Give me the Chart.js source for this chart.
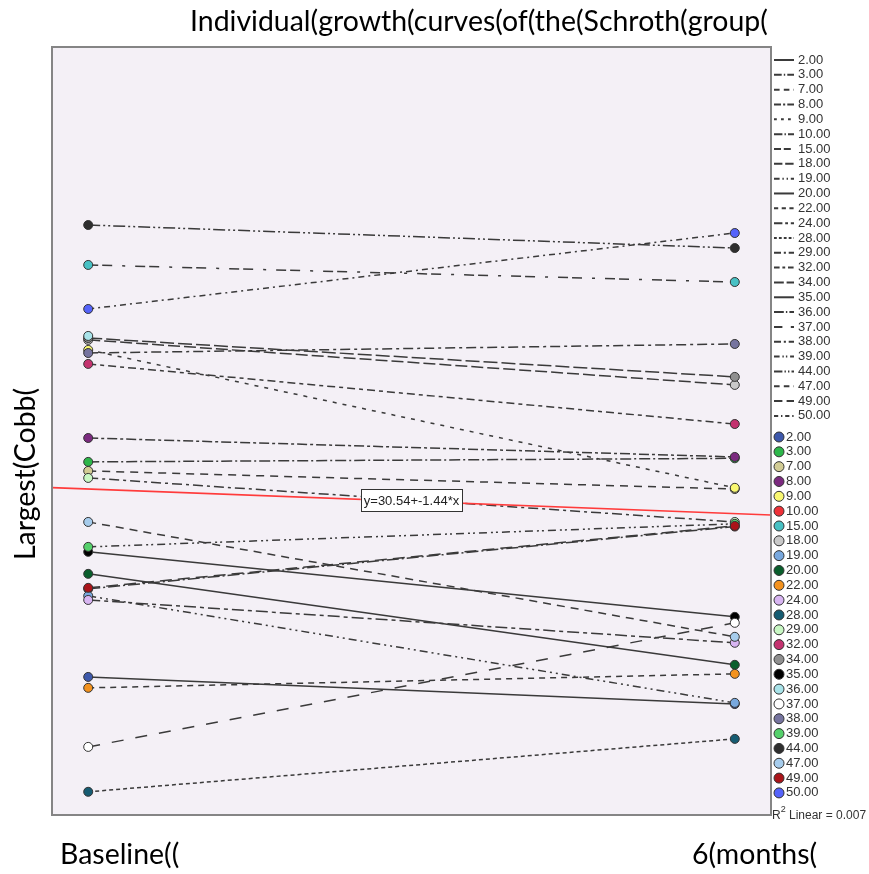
<!DOCTYPE html>
<html>
<head>
<meta charset="utf-8">
<script src="https://cdn.jsdelivr.net/npm/chart.js@4/dist/chart.umd.min.js"></script>
<style>
  html, body { margin: 0; padding: 0; background: #ffffff; }
  #wrap { width: 869px; height: 874px; position: relative; }
</style>
</head>
<body>
<div id="wrap"><canvas id="c" width="869" height="874"></canvas></div>
<script>
// ---- data ----
const categories = ['2.00','3.00','7.00','8.00','9.00','10.00','15.00','18.00','19.00','20.00','22.00','24.00','28.00','29.00','32.00','34.00','35.00','36.00','37.00','38.00','39.00','44.00','47.00','49.00','50.00'];
const timeLabels = ['Baseline((', '6(months('];
const baselineValues = [18.09, 30.69, 30.16, 32.09, 37.25, 23.25, 42.23, 37.84, 22.84, 24.13, 17.45, 22.60, 11.36, 29.75, 36.43, 37.95, 25.42, 38.07, 13.99, 37.07, 25.71, 44.57, 27.17, 23.31, 39.65];
const sixMonthValues = [16.50, 30.90, 29.10, 30.98, 29.17, 26.90, 41.23, 35.20, 16.57, 18.80, 18.27, 20.09, 14.46, 27.17, 32.91, 35.67, 21.61, null, 21.26, 37.60, 27.06, 43.22, 20.44, 26.94, 44.10];
const markerColors = ['#3D58AB','#2DB64A','#D2CC95','#7B2A7F','#F9F871','#EE3138','#47C1C4','#C9C9C9','#78A8DE','#0A5E2C','#F3921E','#D8B5F2','#165C72','#C8F7C3','#C4326F','#8F8F8F','#000000','#A8E3E9','#FFFFFF','#76749F','#55D06B','#2E2E2E','#A6CCEC','#AA1419','#5563FA'];
const lineDashes = [[],[11,3,2,3],[8,6],[10,3,3,3],[4,6],[12,3,2,3],[10,4,10,10,3,10],[12,4],[8,4,2,4,2,4],[],[6,5],[12,4,4,4],[4,3],[10,4,3,4],[8,4,4,4],[14,4],[],[14,3,2,3],[12,12],[10,4,3,4],[8,4,2,3,2,4],[12,3,2,3,2,3],[8,6],[12,6],[6,4,2,4]];
const fitIntercept = 30.54;
const fitSlope = -1.44;
const rSquared = '0.007';
const titleText = 'Individual(growth(curves(of(the(Schroth(group(';
const yTitleText = 'Largest(Cobb(';

// ---- chart ----
const X_MIN = 0.944, X_MAX = 2.056, Y_MIN = 10, Y_MAX = 55;

const datasets = [];
datasets.push({
  type: 'scatter',
  data: baselineValues.map(v => ({x: 1, y: v})),
  pointBackgroundColor: markerColors,
  pointBorderColor: '#333333',
  pointBorderWidth: 1,
  pointRadius: 4.5,
  order: 0
});
datasets.push({
  type: 'scatter',
  data: sixMonthValues.map(v => ({x: 2, y: v})),
  pointBackgroundColor: markerColors,
  pointBorderColor: '#333333',
  pointBorderWidth: 1,
  pointRadius: 4.5,
  order: 0
});
datasets.push({
  type: 'line',
  data: [{x: X_MIN, y: fitIntercept + fitSlope * X_MIN}, {x: X_MAX, y: fitIntercept + fitSlope * X_MAX}],
  borderColor: '#FF3B3B',
  borderWidth: 1.6,
  pointRadius: 0,
  order: 1
});
categories.forEach((c, i) => {
  datasets.push({
    type: 'line',
    label: c,
    data: [{x: 1, y: baselineValues[i]}, {x: 2, y: sixMonthValues[i]}],
    borderColor: '#3a3a3a',
    borderWidth: 1.5,
    borderDash: lineDashes[i],
    pointRadius: 0,
    spanGaps: false,
    order: 2
  });
});

function fitSize(ctx, text, family, width) {
  ctx.font = '20px ' + family;
  const w = ctx.measureText(text).width;
  return 20 * width / w;
}

const decor = {
  id: 'decor',
  beforeDraw(chart) {
    const {ctx, chartArea: a} = chart;
    ctx.save();
    ctx.fillStyle = '#ffffff';
    ctx.fillRect(0, 0, chart.width, chart.height);
    ctx.fillStyle = '#F4F0F6';
    ctx.fillRect(a.left, a.top, a.right - a.left, a.bottom - a.top);
    ctx.restore();
  },
  afterDatasetsDraw(chart) {
    const {ctx, chartArea: a, scales} = chart;
    ctx.save();
    const lx = scales.x.getPixelForValue(1.5);
    const ly = scales.y.getPixelForValue(fitIntercept + fitSlope * 1.5) - 1;
    const label = 'y=' + fitIntercept.toFixed(2) + '+' + fitSlope.toFixed(2) + '*x';
    ctx.font = '13px "Liberation Sans", Arial, sans-serif';
    const w = ctx.measureText(label).width + 6;
    ctx.fillStyle = '#ffffff';
    ctx.fillRect(lx - w / 2, ly - 11, w, 22);
    ctx.strokeStyle = '#333333';
    ctx.lineWidth = 1;
    ctx.strokeRect(Math.round(lx - w / 2) + 0.5, Math.round(ly - 11) + 0.5, Math.round(w), 22);
    ctx.fillStyle = '#222222';
    ctx.textAlign = 'center';
    ctx.textBaseline = 'middle';
    ctx.fillText(label, lx, ly + 1);
    ctx.strokeStyle = '#858585';
    ctx.lineWidth = 2;
    ctx.strokeRect(a.left, a.top, a.right - a.left, a.bottom - a.top);
    ctx.restore();
  },
  afterDraw(chart) {
    const {ctx} = chart;
    const fam = 'Lato, "Liberation Sans", sans-serif';
    ctx.save();
    ctx.fillStyle = '#000000';
    ctx.textAlign = 'left';
    ctx.textBaseline = 'middle';
    const size = fitSize(ctx, titleText, fam, 578);
    ctx.font = size.toFixed(2) + 'px ' + fam;
    ctx.fillText(titleText, 190, 22);
    ctx.fillText(timeLabels[0], 60, 855);
    ctx.fillText(timeLabels[1], 692, 855);
    ctx.translate(26, 474);
    ctx.rotate(-Math.PI / 2);
    ctx.textAlign = 'center';
    ctx.fillText(yTitleText, 0, 0);
    ctx.restore();

    ctx.save();
    ctx.font = '13px "Liberation Sans", Arial, sans-serif';
    ctx.textBaseline = 'middle';
    ctx.textAlign = 'left';
    const step = 14.83;
    categories.forEach((c, i) => {
      const y = 60 + i * step;
      ctx.strokeStyle = '#3a3a3a';
      ctx.lineWidth = 2;
      ctx.setLineDash(lineDashes[i].map(d => d * 0.7));
      ctx.beginPath();
      ctx.moveTo(774, y);
      ctx.lineTo(794, y);
      ctx.stroke();
      ctx.setLineDash([]);
      ctx.fillStyle = '#333333';
      ctx.fillText(c, 798, y);
    });
    categories.forEach((c, i) => {
      const y = 437 + i * step;
      ctx.beginPath();
      ctx.arc(779, y, 5, 0, Math.PI * 2);
      ctx.fillStyle = markerColors[i];
      ctx.fill();
      ctx.strokeStyle = '#333333';
      ctx.lineWidth = 1;
      ctx.stroke();
      ctx.fillStyle = '#333333';
      ctx.fillText(c, 786, y);
    });
    ctx.fillStyle = '#333333';
    ctx.font = '12px "Liberation Sans", Arial, sans-serif';
    ctx.fillText('R', 772, 816);
    const rw = ctx.measureText('R').width;
    ctx.font = '9px "Liberation Sans", Arial, sans-serif';
    ctx.fillText('2', 772 + rw, 810);
    const sw = ctx.measureText('2').width;
    ctx.font = '12px "Liberation Sans", Arial, sans-serif';
    ctx.fillText(' Linear = ' + rSquared, 772 + rw + sw, 816);
    ctx.restore();
  }
};

new Chart(document.getElementById('c'), {
  data: { datasets },
  options: {
    responsive: false,
    animation: false,
    layout: { padding: { left: 52, top: 47, right: 98, bottom: 59 } },
    plugins: { legend: { display: false }, tooltip: { enabled: false }, title: { display: false } },
    scales: {
      x: { type: 'linear', min: X_MIN, max: X_MAX, display: false },
      y: { type: 'linear', min: Y_MIN, max: Y_MAX, display: false }
    }
  },
  plugins: [decor]
});
</script>
</body>
</html>
